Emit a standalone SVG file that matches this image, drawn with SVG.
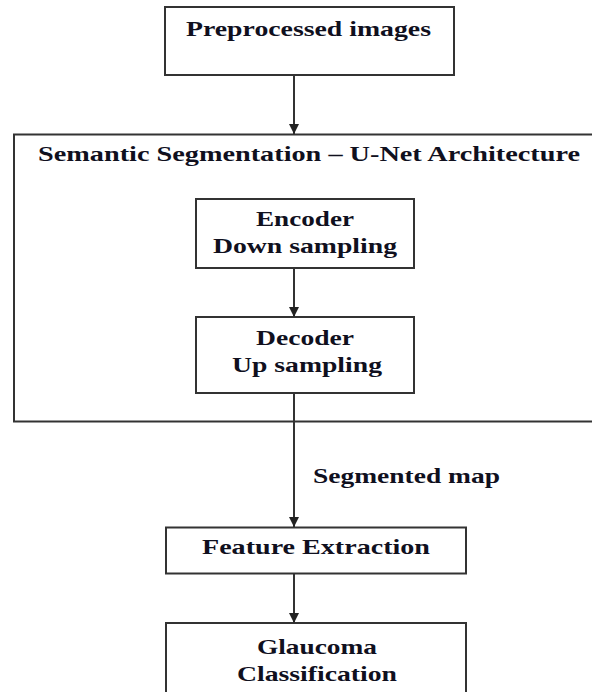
<svg xmlns="http://www.w3.org/2000/svg" width="592" height="692" viewBox="0 0 592 692">
<defs>
<style>
.box{fill:#fff;stroke:#333;stroke-width:2}
.t{font-family:"Liberation Serif","Times New Roman",serif;font-weight:bold;font-size:22px;fill:#10101e;text-anchor:middle}
.c{fill:none;stroke:#333;stroke-width:2}
</style>
<marker id="ah" viewBox="0 0 10 10" refX="10" refY="5" markerWidth="10" markerHeight="10" markerUnits="userSpaceOnUse" orient="auto">
<path d="M0,0 L10,5 L0,10 Z" fill="#222"/>
</marker>
</defs>
<rect width="592" height="692" fill="#fff"/>
<g id="unet">
<rect class="box" x="14" y="134.5" width="600" height="287"/>
<text class="t" x="309" y="161" textLength="542" lengthAdjust="spacingAndGlyphs">Semantic Segmentation – U-Net Architecture</text>
</g>
<g id="preprocessed">
<rect class="box" x="165" y="7" width="289" height="68"/>
<text class="t" x="308.5" y="36" textLength="245" lengthAdjust="spacingAndGlyphs">Preprocessed images</text>
</g>
<g id="encoder">
<rect class="box" x="196" y="199" width="218" height="69"/>
<text class="t" x="305" y="226" textLength="98" lengthAdjust="spacingAndGlyphs">Encoder</text>
<text class="t" x="305" y="253" textLength="184" lengthAdjust="spacingAndGlyphs">Down sampling</text>
</g>
<g id="decoder">
<rect class="box" x="196" y="317" width="218" height="76"/>
<text class="t" x="305" y="345" textLength="98" lengthAdjust="spacingAndGlyphs">Decoder</text>
<text class="t" x="307" y="372" textLength="150" lengthAdjust="spacingAndGlyphs">Up sampling</text>
</g>
<g id="feature">
<rect class="box" x="166" y="527.5" width="300" height="46"/>
<text class="t" x="316" y="554" textLength="228" lengthAdjust="spacingAndGlyphs">Feature Extraction</text>
</g>
<g id="glaucoma">
<rect class="box" x="166" y="623" width="300" height="80"/>
<text class="t" x="317" y="654" textLength="120" lengthAdjust="spacingAndGlyphs">Glaucoma</text>
<text class="t" x="317" y="681" textLength="160" lengthAdjust="spacingAndGlyphs">Classification</text>
</g>
<g id="connectors">
<line class="c" x1="294" y1="75" x2="294" y2="134" marker-end="url(#ah)"/>
<line class="c" x1="294" y1="268" x2="294" y2="317" marker-end="url(#ah)"/>
<line class="c" x1="294" y1="393" x2="294" y2="527" marker-end="url(#ah)"/>
<line class="c" x1="294" y1="574" x2="294" y2="623" marker-end="url(#ah)"/>
<text class="t" x="406.5" y="483" textLength="187" lengthAdjust="spacingAndGlyphs">Segmented map</text>
</g>
</svg>
